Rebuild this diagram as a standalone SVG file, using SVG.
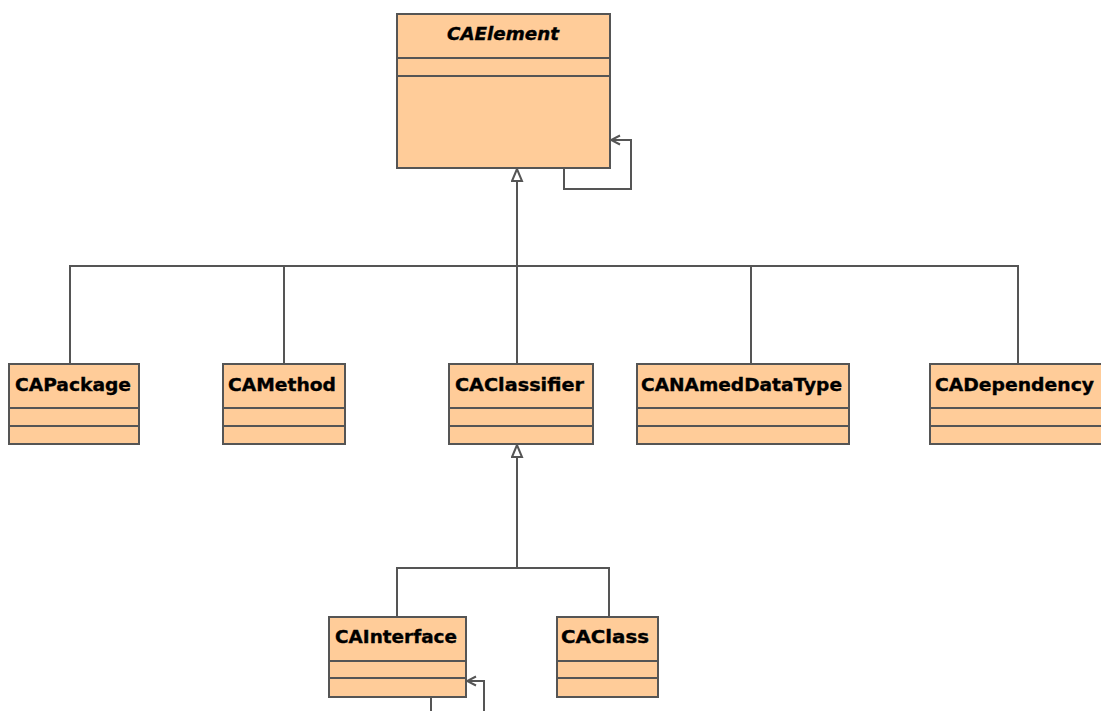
<svg xmlns="http://www.w3.org/2000/svg" width="1101" height="711" viewBox="0 0 1101 711">
  <style>
    .box { fill: #FFCC99; stroke: #555; stroke-width: 2; }
    .div { stroke: #555; stroke-width: 2; }
    .lbl { font-family: "DejaVu Sans", "Liberation Sans", sans-serif; font-weight: bold; font-size: 18px; fill: #000; stroke: #000; stroke-width: 0.35; }
    .abs { font-style: italic; }
    .edge { fill: none; stroke: #555; stroke-width: 2; }
  </style>
  <defs>
    <!-- hollow triangle for generalization, tip along +x -->
    <marker id="gen" viewBox="0 0 15 13" refX="14" refY="6.5" markerWidth="15" markerHeight="13" markerUnits="userSpaceOnUse" orient="auto">
      <path d="M14,6.5 L2,1.5 L2,11.5 Z" fill="#fff" stroke="#555" stroke-width="2"/>
    </marker>
    <!-- open arrowhead for associations, tip along +x -->
    <marker id="open" viewBox="0 0 12 12" refX="11" refY="6" markerWidth="12" markerHeight="12" markerUnits="userSpaceOnUse" orient="auto">
      <path d="M2,1.5 L11,6 L2,10.5" fill="none" stroke="#555" stroke-width="2"/>
    </marker>
  </defs>
  <rect width="1101" height="711" fill="#fff"/>

  <g id="connectors">
    <!-- inheritance tree under CAElement -->
    <path class="edge" d="M517,266 V169" marker-end="url(#gen)"/>
    <path class="edge" d="M70,364 V266 H1018 V364"/>
    <path class="edge" d="M284,364 V266"/>
    <path class="edge" d="M517,364 V266"/>
    <path class="edge" d="M751,364 V266"/>
    <!-- CAElement self association -->
    <path class="edge" d="M564,168 V189 H631 V140 H611" marker-end="url(#open)"/>
    <!-- inheritance tree under CAClassifier -->
    <path class="edge" d="M517,568 V445" marker-end="url(#gen)"/>
    <path class="edge" d="M397,617 V568 H609 V617"/>
    <!-- CAInterface self association -->
    <path class="edge" d="M431,697 V712"/>
    <path class="edge" d="M484,712 V681 H467" marker-end="url(#open)"/>
  </g>

  <g id="CAElement">
    <rect class="box" x="397" y="14" width="213" height="154"/>
    <line class="div" x1="397" y1="58" x2="610" y2="58"/>
    <line class="div" x1="397" y1="76" x2="610" y2="76"/>
    <text class="lbl abs" x="447" y="40" textLength="112" lengthAdjust="spacingAndGlyphs">CAElement</text>
  </g>

  <g id="CAPackage">
    <rect class="box" x="9" y="364" width="130" height="80"/>
    <line class="div" x1="9" y1="408" x2="139" y2="408"/>
    <line class="div" x1="9" y1="426" x2="139" y2="426"/>
    <text class="lbl" x="15" y="391" textLength="116" lengthAdjust="spacingAndGlyphs">CAPackage</text>
  </g>

  <g id="CAMethod">
    <rect class="box" x="223" y="364" width="122" height="80"/>
    <line class="div" x1="223" y1="408" x2="345" y2="408"/>
    <line class="div" x1="223" y1="426" x2="345" y2="426"/>
    <text class="lbl" x="228" y="391" textLength="108" lengthAdjust="spacingAndGlyphs">CAMethod</text>
  </g>

  <g id="CAClassifier">
    <rect class="box" x="449" y="364" width="144" height="80"/>
    <line class="div" x1="449" y1="408" x2="593" y2="408"/>
    <line class="div" x1="449" y1="426" x2="593" y2="426"/>
    <text class="lbl" x="455" y="391" textLength="129" lengthAdjust="spacingAndGlyphs">CAClassifier</text>
  </g>

  <g id="CANAmedDataType">
    <rect class="box" x="637" y="364" width="212" height="80"/>
    <line class="div" x1="637" y1="408" x2="849" y2="408"/>
    <line class="div" x1="637" y1="426" x2="849" y2="426"/>
    <text class="lbl" x="641" y="391" textLength="201" lengthAdjust="spacingAndGlyphs">CANAmedDataType</text>
  </g>

  <g id="CADependency">
    <rect class="box" x="930" y="364" width="180" height="80"/>
    <line class="div" x1="930" y1="408" x2="1110" y2="408"/>
    <line class="div" x1="930" y1="426" x2="1110" y2="426"/>
    <text class="lbl" x="935" y="391" textLength="159" lengthAdjust="spacingAndGlyphs">CADependency</text>
  </g>

  <g id="CAInterface">
    <rect class="box" x="329" y="617" width="137" height="80"/>
    <line class="div" x1="329" y1="661" x2="466" y2="661"/>
    <line class="div" x1="329" y1="678" x2="466" y2="678"/>
    <text class="lbl" x="335" y="643" textLength="122" lengthAdjust="spacingAndGlyphs">CAInterface</text>
  </g>

  <g id="CAClass">
    <rect class="box" x="557" y="617" width="101" height="80"/>
    <line class="div" x1="557" y1="661" x2="658" y2="661"/>
    <line class="div" x1="557" y1="678" x2="658" y2="678"/>
    <text class="lbl" x="561" y="643" textLength="88" lengthAdjust="spacingAndGlyphs">CAClass</text>
  </g>
</svg>
